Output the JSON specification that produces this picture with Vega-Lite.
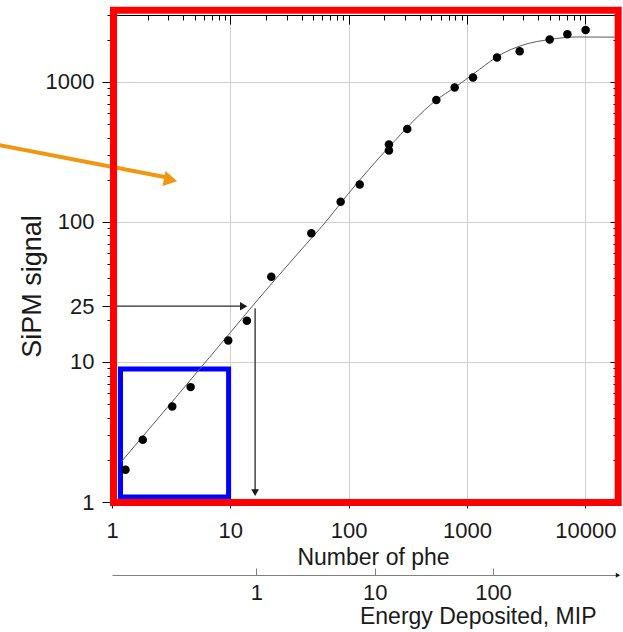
{
  "$schema": "https://vega.github.io/schema/vega-lite/v6.json",
  "width": 506,
  "height": 487,
  "autosize": {"type": "none"},
  "padding": {"left": 112, "top": 15, "right": 5, "bottom": 130},
  "background": "white",
  "config": {
    "view": {"stroke": null},
    "axis": {
      "labelFont": "Liberation Sans",
      "titleFont": "Liberation Sans",
      "labelColor": "#1a1a1a",
      "titleColor": "#1a1a1a",
      "titleFontWeight": "normal",
      "labelFlush": false,
      "labelOverlap": false,
      "labelBound": false,
      "domainColor": "#000000",
      "tickColor": "#000000",
      "gridColor": "#cfcfcf",
      "gridWidth": 1
    }
  },
  "datasets": {
    "pts": [
      {"phe": 1.30, "sig": 1.70}, {"phe": 1.82, "sig": 2.78}, {"phe": 3.23, "sig": 4.81},
      {"phe": 4.62, "sig": 6.61}, {"phe": 9.6, "sig": 14.2}, {"phe": 13.8, "sig": 19.7},
      {"phe": 22.2, "sig": 40.6}, {"phe": 48.4, "sig": 82.9}, {"phe": 85.6, "sig": 139},
      {"phe": 124, "sig": 185}, {"phe": 219, "sig": 357}, {"phe": 219, "sig": 323},
      {"phe": 313, "sig": 460}, {"phe": 551, "sig": 741}, {"phe": 787, "sig": 912},
      {"phe": 1125, "sig": 1074}, {"phe": 1795, "sig": 1493}, {"phe": 2790, "sig": 1656},
      {"phe": 5000, "sig": 2006}, {"phe": 7060, "sig": 2188}, {"phe": 10070, "sig": 2344}
    ],
    "fit": [
      {"phe": 1.2, "sig": 1.94}, {"phe": 10, "sig": 16.2}, {"phe": 17, "sig": 27.7},
      {"phe": 38.5, "sig": 61.4}, {"phe": 64, "sig": 100}, {"phe": 100, "sig": 160},
      {"phe": 219, "sig": 342}, {"phe": 551, "sig": 741}, {"phe": 787, "sig": 912},
      {"phe": 920, "sig": 1000}, {"phe": 1280, "sig": 1230}, {"phe": 1888, "sig": 1550},
      {"phe": 2970, "sig": 1830}, {"phe": 5000, "sig": 2006}, {"phe": 8400, "sig": 2090},
      {"phe": 18900, "sig": 2085}
    ],
    "arrows": [
      {"id": "h", "phe": 1, "sig": 25}, {"id": "h", "phe": 12.6, "sig": 25},
      {"id": "v", "phe": 16.2, "sig": 24.2}, {"id": "v", "phe": 16.2, "sig": 1.2}
    ],
    "orange": [
      {"phe": 0.112, "sig": 353}, {"phe": 2.85, "sig": 208}
    ]
  },
  "layer": [
    {
      "data": {"values": [{"x1": 1.18, "x2": 9.67, "y1": 1.086, "y2": 8.91}]},
      "mark": {"type": "rect", "fillOpacity": 0, "stroke": "#0000ff", "strokeWidth": 5},
      "encoding": {
        "x": {
          "field": "x1", "type": "quantitative",
          "scale": {"type": "log", "domain": [1, 18900]},
          "axis": {
            "orient": "bottom",
            "values": [1, 10, 100, 1000, 10000],
            "format": "d",
            "grid": true,
            "tickSize": 6,
            "labelPadding": 12,
            "labelFontSize": 22,
            "title": "Number of phe",
            "titleFontSize": 23,
            "titleX": 261,
            "titleY": 62,
            "titleAlign": "center",
            "titleBaseline": "alphabetic"
          }
        },
        "x2": {"field": "x2"},
        "y": {
          "field": "y1", "type": "quantitative",
          "scale": {"type": "log", "domain": [1, 3000]},
          "axis": {
            "orient": "left",
            "values": [1, 2, 3, 4, 5, 6, 7, 8, 9, 10, 20, 25, 30, 40, 50, 60, 70, 80, 90, 100, 200, 300, 400, 500, 600, 700, 800, 900, 1000, 2000, 3000],
            "format": "d",
            "labelExpr": "indexof([1, 10, 25, 100, 1000], datum.value) >= 0 ? datum.label : ''",
            "grid": true,
            "gridOpacity": {"condition": {"test": "indexof([1, 10, 100, 1000], datum.value) >= 0", "value": 1}, "value": 0},
            "tickSize": {"condition": {"test": "indexof([1, 10, 25, 100, 1000], datum.value) >= 0", "value": 10}, "value": 5},
            "labelPadding": 8,
            "labelFontSize": 22,
            "title": "SiPM signal",
            "titleFontSize": 27,
            "titleAngle": 270,
            "titleX": -72,
            "titleY": 271,
            "titleAlign": "center",
            "titleBaseline": "alphabetic"
          }
        },
        "y2": {"field": "y2"}
      }
    },
    {
      "data": {"name": "fit"},
      "mark": {"type": "line", "color": "#5a5a5a", "strokeWidth": 1, "interpolate": "monotone"},
      "encoding": {
        "x": {"field": "phe", "type": "quantitative", "scale": {"type": "log", "domain": [1, 18900]}, "axis": null},
        "y": {"field": "sig", "type": "quantitative", "scale": {"type": "log", "domain": [1, 3000]}, "axis": null}
      }
    },
    {
      "data": {"name": "pts"},
      "mark": {"type": "point", "filled": true, "color": "#000000", "size": 72, "opacity": 1},
      "encoding": {
        "x": {"field": "phe", "type": "quantitative", "scale": {"type": "log", "domain": [1, 18900]}, "axis": null},
        "y": {"field": "sig", "type": "quantitative", "scale": {"type": "log", "domain": [1, 3000]}, "axis": null}
      }
    },
    {
      "data": {"name": "arrows"},
      "mark": {"type": "line", "color": "#2a2a2a", "strokeWidth": 1.3},
      "encoding": {
        "x": {"field": "phe", "type": "quantitative", "scale": {"type": "log", "domain": [1, 18900]}, "axis": null},
        "y": {"field": "sig", "type": "quantitative", "scale": {"type": "log", "domain": [1, 3000]}, "axis": null},
        "detail": {"field": "id"}
      }
    },
    {
      "data": {"values": [{"phe": 12.95, "sig": 25}]},
      "mark": {"type": "point", "shape": "triangle-right", "filled": true, "color": "#1a1a1a", "size": 70, "opacity": 1},
      "encoding": {
        "x": {"field": "phe", "type": "quantitative", "scale": {"type": "log", "domain": [1, 18900]}, "axis": null},
        "y": {"field": "sig", "type": "quantitative", "scale": {"type": "log", "domain": [1, 3000]}, "axis": null}
      }
    },
    {
      "data": {"values": [{"phe": 16.2, "sig": 1.165}]},
      "mark": {"type": "point", "shape": "triangle-down", "filled": true, "color": "#1a1a1a", "size": 60, "opacity": 1},
      "encoding": {
        "x": {"field": "phe", "type": "quantitative", "scale": {"type": "log", "domain": [1, 18900]}, "axis": null},
        "y": {"field": "sig", "type": "quantitative", "scale": {"type": "log", "domain": [1, 3000]}, "axis": null}
      }
    },
    {
      "data": {"values": [{"phe": 18900, "sig": 0.2996}]},
      "mark": {"type": "point", "shape": "triangle-right", "filled": true, "color": "#1a1a1a", "size": 25, "opacity": 1},
      "encoding": {
        "x": {"field": "phe", "type": "quantitative", "scale": {"type": "log", "domain": [1, 18900]}, "axis": null},
        "y": {"field": "sig", "type": "quantitative", "scale": {"type": "log", "domain": [1, 3000]}, "axis": null}
      }
    },
    {
      "data": {"name": "orange"},
      "mark": {"type": "line", "color": "#f0960f", "strokeWidth": 4},
      "encoding": {
        "x": {"field": "phe", "type": "quantitative", "scale": {"type": "log", "domain": [1, 18900]}, "axis": null},
        "y": {"field": "sig", "type": "quantitative", "scale": {"type": "log", "domain": [1, 3000]}, "axis": null}
      }
    },
    {
      "data": {"values": [{"phe": 3.13, "sig": 199.6}]},
      "mark": {"type": "point", "shape": "triangle-right", "filled": true, "color": "#f0960f", "size": 240, "opacity": 1, "angle": 11.5},
      "encoding": {
        "x": {"field": "phe", "type": "quantitative", "scale": {"type": "log", "domain": [1, 18900]}, "axis": null},
        "y": {"field": "sig", "type": "quantitative", "scale": {"type": "log", "domain": [1, 3000]}, "axis": null}
      }
    },
    {
      "data": {"values": [{"x1": 1.03, "x2": 18970, "y1": 0.99, "y2": 3245}]},
      "mark": {"type": "rect", "fillOpacity": 0, "stroke": "#ff0000", "strokeWidth": 7},
      "encoding": {
        "x": {"field": "x1", "type": "quantitative", "scale": {"type": "log", "domain": [1, 18900]}, "axis": null},
        "x2": {"field": "x2"},
        "y": {"field": "y1", "type": "quantitative", "scale": {"type": "log", "domain": [1, 3000]}, "axis": null},
        "y2": {"field": "y2"}
      }
    },
    {
      "data": {"values": [{"a": 1, "b": 1}]},
      "mark": {"type": "point", "opacity": 0},
      "encoding": {
        "x": {
          "field": "a", "type": "quantitative",
          "scale": {"type": "log", "domain": [1, 18900]},
          "axis": {
            "orient": "top",
            "values": [1, 2, 3, 4, 5, 6, 7, 8, 9, 10, 20, 30, 40, 50, 60, 70, 80, 90, 100, 200, 300, 400, 500, 600, 700, 800, 900, 1000, 2000, 3000, 4000, 5000, 6000, 7000, 8000, 9000, 10000],
            "labels": false,
            "grid": false,
            "title": null,
            "tickSize": {"condition": {"test": "indexof([1, 10, 100, 1000, 10000], datum.value) >= 0", "value": -9}, "value": -5}
          }
        },
        "y": {
          "field": "b", "type": "quantitative",
          "scale": {"type": "log", "domain": [1, 3000]},
          "axis": {
            "orient": "right",
            "values": [1, 2, 3, 4, 5, 6, 7, 8, 9, 10, 20, 30, 40, 50, 60, 70, 80, 90, 100, 200, 300, 400, 500, 600, 700, 800, 900, 1000, 2000, 3000],
            "labels": false,
            "grid": false,
            "title": null,
            "tickSize": {"condition": {"test": "indexof([1, 10, 100, 1000], datum.value) >= 0", "value": -8}, "value": -5}
          }
        }
      }
    },
    {
      "data": {"values": [{"mip_in_phe": 16.6}]},
      "mark": {"type": "point", "opacity": 0},
      "encoding": {
        "x": {
          "field": "mip_in_phe", "type": "quantitative",
          "scale": {"type": "log", "domain": [1, 18900]},
          "axis": {
            "orient": "bottom",
            "offset": 73,
            "values": [16.6, 166, 1660],
            "labelExpr": "format(datum.value / 16.6, 'd')",
            "grid": false,
            "domainColor": "#808080",
            "tickColor": "#808080",
            "tickSize": -7,
            "labelPadding": 14,
            "labelFontSize": 22,
            "title": "Energy Deposited, MIP",
            "titleFontSize": 23,
            "titleX": 484,
            "titleY": 48,
            "titleAlign": "right",
            "titleBaseline": "alphabetic"
          }
        }
      }
    }
  ],
  "resolve": {"axis": {"x": "independent", "y": "independent"}}
}
